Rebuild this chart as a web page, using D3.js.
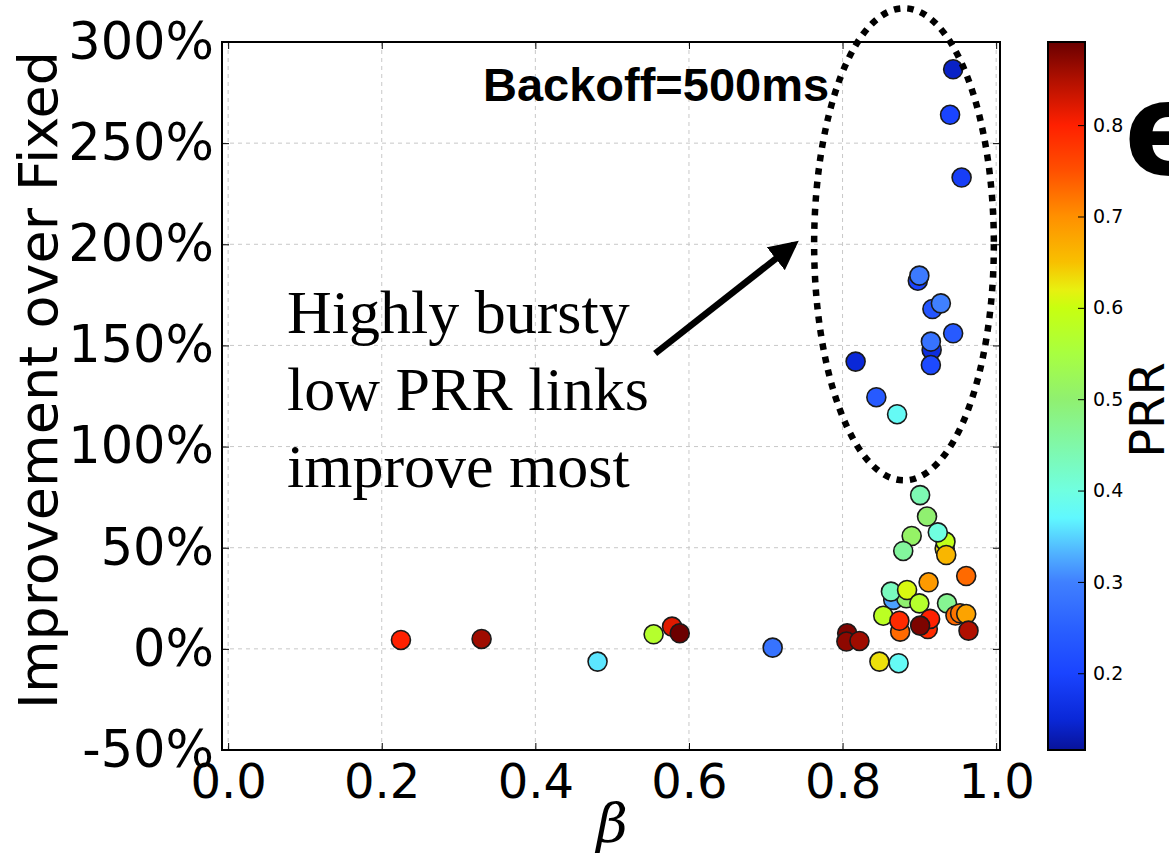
<!DOCTYPE html>
<html>
<head>
<meta charset="utf-8">
<script src="https://cdn.jsdelivr.net/npm/d3@7"></script>
<style>
  body { margin: 0; background: #fff; }
  svg { display: block; }
</style>
</head>
<body>
<div id="chart"></div>
<script>
// beta, improvement (%), PRR  -- points that sit behind others come first
var beta = [0.898, 0.916, 0.900, 0.917, 0.928, 0.944, 0.915, 0.915, 0.944, 0.940, 0.955, 0.817, 0.844, 0.871,
            0.901, 0.910, 0.890, 0.879, 0.933, 0.934, 0.924, 0.935, 0.961, 0.912,
            0.866, 0.883, 0.863, 0.884, 0.900, 0.936, 0.853,
            0.875, 0.874, 0.911, 0.914, 0.901, 0.947, 0.953, 0.961, 0.964,
            0.806, 0.805, 0.822, 0.848, 0.873,
            0.225, 0.330, 0.481, 0.554, 0.578, 0.588, 0.709];
var improvement = [182, 147.8, 184.5, 168, 170.8, 156, 151.9, 140.3, 286.5, 264, 233, 142, 124.4, 116,
            76, 65.4, 55.8, 48.4, 49.5, 53, 57.6, 46.4, 36, 32.9,
            24.2, 25, 28.3, 29.1, 22.5, 22.5, 16.4,
            8.5, 13.9, 9.8, 14.8, 11.5, 16.5, 17.6, 17.2, 9,
            7.7, 3.6, 3.9, -6.3, -7.1,
            4.4, 4.9, -6.3, 7.2, 11.0, 7.7, 0.6];
var prr = [0.2, 0.16, 0.29, 0.23, 0.3, 0.24, 0.28, 0.21, 0.14, 0.2, 0.19, 0.15, 0.24, 0.38,
            0.44, 0.5, 0.51, 0.46, 0.63, 0.59, 0.40, 0.66, 0.73, 0.69,
            0.32, 0.5, 0.43, 0.61, 0.57, 0.47, 0.58,
            0.73, 0.79, 0.79, 0.8, 0.88, 0.73, 0.72, 0.68, 0.85,
            0.88, 0.87, 0.86, 0.63, 0.38,
            0.8, 0.86, 0.36, 0.57, 0.82, 0.89, 0.28];

var xTicks = [0.0, 0.2, 0.4, 0.6, 0.8, 1.0];
var yTicks = [-50, 0, 50, 100, 150, 200, 250, 300];
var cbTicks = [0.2, 0.3, 0.4, 0.5, 0.6, 0.7, 0.8];

// colour map
var cmapStops = [0.116, 0.15, 0.2, 0.25, 0.3, 0.33, 0.37, 0.4, 0.45, 0.5, 0.55, 0.6, 0.62, 0.65, 0.7, 0.75, 0.8, 0.85, 0.891];
var cmapColors = ["#08139a","#0a28d8","#1a44ff","#2a60ff","#4080ff","#50b0ff","#60f8ff","#70ffe0","#80f8a8","#90f070",
                  "#a8ff40","#c8ff10","#e8f010","#f8c000","#ff9000","#ff5000","#ff2000","#b01000","#6a0000"];

function drawChart(){
    var data = beta.map(function(b, i){ return {b: b, imp: improvement[i], prr: prr[i]}; });

    var W = 1169, H = 865;
    var svg = d3.select("#chart").append("svg").attr("width", W).attr("height", H);
    var defs = svg.append("defs");

    var pL = 222, pR = 1000, pT = 42, pB = 750;
    var x = d3.scaleLinear().domain([-0.008, 1.005]).range([pL, pR]);
    var y = d3.scaleLinear().domain([-50, 300]).range([pB, pT]);
    var color = d3.scaleLinear().domain(cmapStops).range(cmapColors).clamp(true);

    // grid
    svg.append("g").selectAll("line").data(xTicks).enter().append("line")
        .attr("x1", function(d){ return x(d); }).attr("x2", function(d){ return x(d); })
        .attr("y1", pT).attr("y2", pB)
        .style("stroke", "#c8c8c8").style("stroke-width", 1).style("stroke-dasharray", "4,4");
    svg.append("g").selectAll("line").data(yTicks).enter().append("line")
        .attr("y1", function(d){ return y(d); }).attr("y2", function(d){ return y(d); })
        .attr("x1", pL).attr("x2", pR)
        .style("stroke", "#c8c8c8").style("stroke-width", 1).style("stroke-dasharray", "4,4");

    // axes, ticks pointing inward
    var xAxis = svg.append("g").attr("transform", "translate(0," + pB + ")")
        .call(d3.axisBottom(x).tickValues(xTicks).tickSizeInner(-7).tickSizeOuter(0).tickPadding(14)
            .tickFormat(d3.format(".1f")));
    xAxis.select(".domain").remove();
    xAxis.selectAll("text").style("font-family", "DejaVu Sans").style("font-size", "48px").style("fill", "#000");

    var xTop = svg.append("g").attr("transform", "translate(0," + pT + ")")
        .call(d3.axisTop(x).tickValues(xTicks).tickSizeInner(-7).tickSizeOuter(0).tickFormat(""));
    xTop.select(".domain").remove();

    var yAxis = svg.append("g").attr("transform", "translate(" + pL + ",0)")
        .call(d3.axisLeft(y).tickValues(yTicks).tickSizeInner(-7).tickSizeOuter(0).tickPadding(8)
            .tickFormat(function(d){ return d + "%"; }));
    yAxis.select(".domain").remove();
    yAxis.selectAll("text").style("font-family", "DejaVu Sans").style("font-size", "51px").style("fill", "#000");

    var yRight = svg.append("g").attr("transform", "translate(" + pR + ",0)")
        .call(d3.axisRight(y).tickValues(yTicks).tickSizeInner(-7).tickSizeOuter(0).tickFormat(""));
    yRight.select(".domain").remove();

    svg.append("rect").attr("x", pL).attr("y", pT).attr("width", pR - pL).attr("height", pB - pT)
        .style("fill", "none").style("stroke", "#000").style("stroke-width", 2);

    // points
    svg.append("g").selectAll("circle").data(data).enter().append("circle")
        .attr("cx", function(d){ return x(d.b); })
        .attr("cy", function(d){ return y(d.imp); })
        .attr("r", 9.5)
        .style("fill", function(d){ return color(d.prr); })
        .style("stroke", "#1a1a1a").style("stroke-width", 1.6);

    // axis titles
    svg.append("text").attr("transform", "translate(57,380) rotate(-90)")
        .attr("text-anchor", "middle")
        .style("font-family", "DejaVu Sans").style("font-size", "54px")
        .text("Improvement over Fixed");
    svg.append("text").attr("x", x(0.5)).attr("y", 842).attr("text-anchor", "middle")
        .style("font-family", "DejaVu Serif").style("font-style", "italic").style("font-size", "54px")
        .text("β");

    // annotations
    svg.append("text").attr("x", 483).attr("y", 101)
        .style("font-family", "Liberation Sans").style("font-weight", "bold").style("font-size", "47px")
        .text("Backoff=500ms");

    var note = ["Highly bursty", "low PRR links", "improve most"];
    svg.append("g").selectAll("text").data(note).enter().append("text")
        .attr("x", 287).attr("y", function(d, i){ return 333 + i * 77; })
        .style("font-family", "Liberation Serif").style("font-size", "62px")
        .text(function(d){ return d; });

    svg.append("ellipse")
        .attr("cx", x(0.88)).attr("cy", y(200))
        .attr("rx", x(0.88 + 0.117) - x(0.88)).attr("ry", y(200) - y(316.7))
        .style("fill", "none").style("stroke", "#000").style("stroke-width", 6.5)
        .style("stroke-dasharray", "6.5,7");

    defs.append("marker").attr("id", "head")
        .attr("viewBox", "0 0 10 10").attr("refX", 8).attr("refY", 5)
        .attr("markerWidth", 4.5).attr("markerHeight", 4.5).attr("markerUnits", "strokeWidth")
        .attr("orient", "auto")
        .append("path").attr("d", "M0,0 L10,5 L0,10 Z").style("fill", "#000");
    svg.append("line")
        .attr("x1", x(0.556)).attr("y1", y(146))
        .attr("x2", x(0.737)).attr("y2", y(200))
        .style("stroke", "#000").style("stroke-width", 6.5)
        .attr("marker-end", "url(#head)");

    // colour bar
    var cbX = 1048, cbW = 37;
    var cb = d3.scaleLinear().domain([0.116, 0.891]).range([pB, pT]);
    var grad = defs.append("linearGradient").attr("id", "cbgrad")
        .attr("x1", 0).attr("y1", 1).attr("x2", 0).attr("y2", 0);
    cmapStops.forEach(function(s, i){
        grad.append("stop").attr("offset", (s - 0.116) / (0.891 - 0.116)).attr("stop-color", cmapColors[i]);
    });
    svg.append("rect").attr("x", cbX).attr("y", pT).attr("width", cbW).attr("height", pB - pT)
        .style("fill", "url(#cbgrad)").style("stroke", "#000").style("stroke-width", 2);
    var cbAxis = svg.append("g").attr("transform", "translate(" + (cbX + cbW) + ",0)")
        .call(d3.axisRight(cb).tickValues(cbTicks).tickSizeInner(-7).tickSizeOuter(0).tickPadding(8)
            .tickFormat(d3.format(".1f")));
    cbAxis.select(".domain").remove();
    cbAxis.selectAll("text").style("font-family", "DejaVu Sans").style("font-size", "19px").style("fill", "#000");

    svg.append("text").attr("transform", "translate(1164,410) rotate(-90)").attr("text-anchor", "middle")
        .style("font-family", "DejaVu Sans").style("font-size", "48px")
        .text("PRR");

    svg.append("text").attr("x", 1124).attr("y", 174)
        .style("font-family", "DejaVu Sans").style("font-weight", "bold").style("font-size", "128px")
        .text("e");
}

drawChart();
</script>
</body>
</html>
